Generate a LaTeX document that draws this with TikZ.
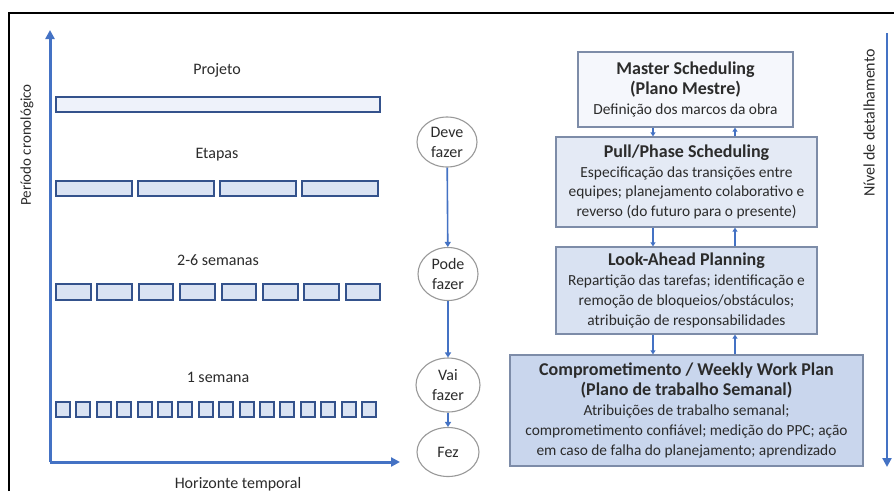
\documentclass[tikz,border=0pt]{standalone}
\usepackage{fontspec}
\setmainfont{Carlito}
\usetikzlibrary{shapes.geometric,arrows.meta}

\definecolor{axisblue}{HTML}{4472C4}
\definecolor{barline}{HTML}{34528C}
\definecolor{barfill}{HTML}{DAE3F3}
\definecolor{barlight}{HTML}{EEF2FA}
\definecolor{boxline}{HTML}{7D8CA8}
\definecolor{fillA}{HTML}{F5F7FC}
\definecolor{fillB}{HTML}{E4EAF5}
\definecolor{fillC}{HTML}{D9E2F2}
\definecolor{fillD}{HTML}{C9D6ED}
\definecolor{txt}{HTML}{2B2B2B}

\newcommand{\fs}[2]{\fontsize{#1}{#2}\selectfont}
\newcommand{\ttl}{\fontsize{18}{20}\selectfont\bfseries}
\newcommand{\bdy}{\fontsize{15.4}{19.8}\selectfont\mdseries}

\tikzset{
  axis/.style={draw=axisblue, line width=3pt, -{Triangle[length=9pt,width=9pt]}},
  flow/.style={draw=axisblue, line width=1.6pt, -{Triangle[length=5pt,width=6pt]}},
  link/.style={draw=axisblue, line width=1.4pt, -{Triangle[length=4pt,width=5pt]}},
  bar/.style={draw=barline, fill=barfill, line width=2.1pt},
  stage/.style={ellipse, draw=gray!80, line width=1.1pt, fill=white,
    text=txt, align=center, inner sep=0pt, font=\fs{16}{20}},
  plan/.style={draw=boxline, line width=1.3pt, text=txt, align=center,
    inner sep=0pt, font=\fs{15.4}{19.8}},
  lbl/.style={text=txt, font=\fs{16}{19}}
}

\begin{document}
\begin{tikzpicture}[x=1pt,y=-1pt]
\useasboundingbox (0,0) rectangle (894,491);
\fill[white] (0,0) rectangle (894,491);

% frame
\draw[black, line width=2.4pt] (9,491) -- (9,13) -- (894,13);

% axes of the left chart
\coordinate (origin) at (50,462);
\coordinate (ytop) at (50,30);
\coordinate (xend) at (400,462);
\draw[axis] (origin) -- (ytop);
\draw[axis] (origin) -- (xend);
\node[lbl, font=\fs{15}{18}, rotate=90] (yl) at (27,145) {Período cronológico};
\node[lbl] (xl) at (238,484) {Horizonte temporal};

% horizon rows
\node[lbl] (l1) at (217,70) {Projeto};
\draw[bar, fill=barlight] (56,97) rectangle (380,112);

\node[lbl] (l2) at (217,155) {Etapas};
\foreach \i in {0,...,3}
  \draw[bar] ({56+\i*82},181) rectangle ({56+\i*82+76},196);

\node[lbl] (l3) at (218,260) {2-6 semanas};
\foreach \i in {0,...,7}
  \draw[bar] ({56+\i*41.4},284) rectangle ({56+\i*41.4+34.6},300);

\node[lbl] (l4) at (218,377) {1 semana};
\foreach \i in {0,...,15}
  \draw[bar] ({56+\i*20.4},402) rectangle ({56+\i*20.4+14},417);

% commitment stages
\node[stage, minimum width=60, minimum height=50] (deve) at (447,142) {Deve\\fazer};
\node[stage, minimum width=60, minimum height=53] (pode) at (448,274) {Pode\\fazer};
\node[stage, minimum width=64, minimum height=54] (vai) at (448,385) {Vai\\fazer};
\node[stage, minimum width=62, minimum height=49] (fez) at (448,452) {Fez};
\draw[flow] (deve) -- (pode);
\draw[flow] (pode) -- (vai);
\draw[flow] (vai) -- (fez);

% planning levels
\node[plan, fill=fillA, minimum width=215, minimum height=75] (master) at (685.5,89.5)
  {\ttl Master Scheduling\\\ttl (Plano Mestre)\\\bdy Definição dos marcos da obra};
\node[plan, fill=fillB, minimum width=261, minimum height=90] (pull) at (686.5,182)
  {\ttl Pull/Phase Scheduling\\\bdy Especificação das transições entre\\
   \bdy equipes; planejamento colaborativo e\\\bdy reverso (do futuro para o presente)};
\node[plan, fill=fillC, minimum width=261, minimum height=87] (look) at (686.5,290.5)
  {\ttl Look-Ahead Planning\\\bdy Repartição das tarefas; identificação e\\
   \bdy remoção de bloqueios/obstáculos;\\\bdy atribuição de responsabilidades};
\node[plan, fill=fillD, minimum width=353, minimum height=111] (comp) at (686.5,410.5)
  {\ttl Comprometimento / Weekly Work Plan\\\ttl (Plano de trabalho Semanal)\\
   \bdy Atribuições de trabalho semanal;\\
   \bdy comprometimento confiável; medição do PPC; ação\\
   \bdy em caso de falha do planejamento; aprendizado};

\coordinate (downx) at (653,0);
\coordinate (upx) at (735,0);
\draw[link] (master.south -| downx) -- (pull.north -| downx);
\draw[link] (pull.north -| upx) -- (master.south -| upx);
\draw[link] (pull.south -| downx) -- (look.north -| downx);
\draw[link] (look.north -| upx) -- (pull.south -| upx);
\draw[link] (look.south -| downx) -- (comp.north -| downx);
\draw[link] (comp.north -| upx) -- (look.south -| upx);

% level of detail
\coordinate (dtop) at (887,33);
\coordinate (dbot) at (887,467);
\draw[axis, line width=2.6pt] (dtop) -- (dbot);
\node[lbl, rotate=90] (dl) at (869,123) {Nível de detalhamento};
\end{tikzpicture}
\end{document}
